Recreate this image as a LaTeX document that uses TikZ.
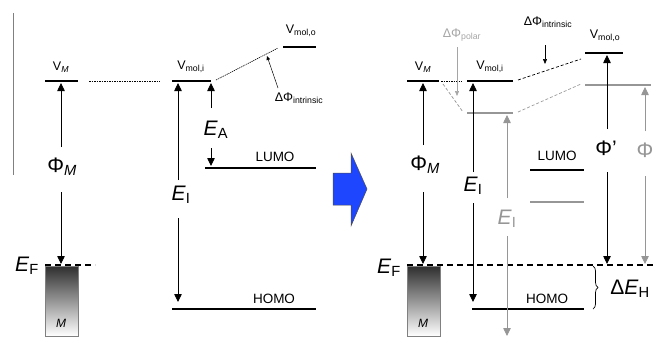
\documentclass[tikz,border=0pt]{standalone}
\usepackage{fontspec}
\setmainfont{Liberation Sans}
\usetikzlibrary{arrows.meta,decorations.pathreplacing}
\definecolor{gmid}{RGB}{150,150,150}
\definecolor{glight}{RGB}{165,165,165}
\definecolor{arrblue}{RGB}{30,70,255}
\newcommand\sbs[1]{\textsubscript{#1}}
\begin{document}
\begin{tikzpicture}[x=1pt,y=-1pt,
  bar/.style={line width=2.6pt},
  gbar/.style={line width=2.6pt,draw=gmid},
  arr/.style={-{Triangle[length=8pt,width=7.5pt]},line width=0.8pt},
  garr/.style={arr,draw=gmid,fill=gmid},
  thinarr/.style={-{Triangle[length=4pt,width=3.5pt]},line width=0.5pt},
  small/.style={font=\fontsize{12.5}{14}\selectfont},
  big/.style={font=\fontsize{21}{24}\selectfont},
  lvl/.style={font=\fontsize{13.5}{15}\selectfont},
  efline/.style={dash pattern=on 6pt off 4pt,line width=1.3pt},
  dotl/.style={dash pattern=on 1.5pt off 1pt,line width=0.8pt},
  thindash/.style={dash pattern=on 3pt off 2pt,line width=0.7pt}]
\useasboundingbox (0,0) rectangle (654,338);
% ---------------- left panel ----------------
\coordinate (vt) at (13,13); \coordinate (vb) at (13,175);
\draw[line width=1pt,gray] (vt) -- (vb);
% V_M
\coordinate (lvm1) at (45,81); \coordinate (lvm2) at (78,81);
\draw[bar] (lvm1) -- (lvm2);
\node[small] (Llvm) at (61,67) {V\sbs{\textit{M}}};
\coordinate (ld1) at (89,81); \coordinate (ld2) at (160,81);
\draw[dotl] (ld1) -- (ld2);
% V_mol,i
\coordinate (lvi1) at (172,81); \coordinate (lvi2) at (211,81);
\draw[bar] (lvi1) -- (lvi2);
\node[small] (Llvi) at (191,67) {V\sbs{mol,i}};
% V_mol,o
\coordinate (lvo1) at (283,47); \coordinate (lvo2) at (316,47);
\draw[bar] (lvo1) -- (lvo2);
\node[small] (Llvo) at (301,31) {V\sbs{mol,o}};
\coordinate (ls1) at (216,80); \coordinate (ls2) at (278,48);
\draw[dash pattern=on 1.2pt off 0.8pt,line width=0.6pt] (ls1) -- (ls2);
\node[small] (Lldi) at (299,98) {ΔΦ\sbs{intrinsic}};
\coordinate (lda1) at (278,88); \coordinate (lda2) at (267,56);
\draw[thinarr] (lda1) -- (lda2);
% Phi_M
\node[big] (LphiM) at (62,167) {Φ\sbs{\textit{M}}};
\coordinate (lpu1) at (61,147); \coordinate (lpu2) at (61,83);
\draw[arr] (lpu1) -- (lpu2);
\coordinate (lpd1) at (61,192); \coordinate (lpd2) at (61,264);
\draw[arr] (lpd1) -- (lpd2);
% E_F and metal
\node[big] (LEF) at (27,266) {\textit{E}\sbs{F}};
\coordinate (lef1) at (45,265); \coordinate (lef2) at (95,265);
\shade[top color=black!82,bottom color=white] (45,266) rectangle (78,336);
\draw[gray,line width=0.6pt] (45,266) rectangle (78,336);
\draw[efline] (lef1) -- (lef2);
\node[font=\fontsize{12}{14}\selectfont\itshape] (LM) at (61,323) {M};
% E_I
\node[big] (LEI) at (181,195) {\textit{E}\sbs{I}};
\coordinate (leu1) at (178,180); \coordinate (leu2) at (178,83);
\draw[arr] (leu1) -- (leu2);
\coordinate (led1) at (178,218); \coordinate (led2) at (178,302);
\draw[arr] (led1) -- (led2);
% HOMO
\coordinate (lh1) at (172,309); \coordinate (lh2) at (316,309);
\draw[bar] (lh1) -- (lh2);
\node[lvl] (LHOMO) at (274,299) {HOMO};
% E_A and LUMO
\node[big] (LEA) at (216,130) {\textit{E}\sbs{A}};
\coordinate (lau1) at (211,108); \coordinate (lau2) at (211,83);
\draw[arr] (lau1) -- (lau2);
\coordinate (lad1) at (211,148); \coordinate (lad2) at (211,166);
\draw[arr] (lad1) -- (lad2);
\coordinate (ll1) at (205,168); \coordinate (ll2) at (316,168);
\draw[bar] (ll1) -- (ll2);
\node[lvl] (LLUMO) at (275,157) {LUMO};
% ---------------- blue arrow ----------------
\filldraw[fill=arrblue,draw=black!70,line width=0.5pt]
  (333,173) -- (351,173) -- (351,153) -- (367,189) -- (351,226) -- (351,205) -- (333,205) -- cycle;
% ---------------- right panel ----------------
\coordinate (rvm1) at (407,81); \coordinate (rvm2) at (439,81);
\draw[bar] (rvm1) -- (rvm2);
\node[small] (Rlvm) at (423,67) {V\sbs{\textit{M}}};
\coordinate (rd1) at (441,81); \coordinate (rd2) at (462,81);
\draw[dotl] (rd1) -- (rd2);
\coordinate (rg1) at (443,84); \coordinate (rg2) at (463,112);
\draw[thindash,gmid] (rg1) -- (rg2);
\node[small,text=glight] (Rdp) at (462,35) {ΔΦ\sbs{polar}};
\coordinate (rpa1) at (457,47); \coordinate (rpa2) at (457,96);
\draw[-{Triangle[length=5pt,width=4pt]},line width=0.6pt,glight] (rpa1) -- (rpa2);
% V_mol,i
\coordinate (rvi1) at (467,81); \coordinate (rvi2) at (513,81);
\draw[bar] (rvi1) -- (rvi2);
\node[small] (Rlvi) at (490,67) {V\sbs{mol,i}};
\coordinate (rgi1) at (467,113); \coordinate (rgi2) at (513,113);
\draw[gbar] (rgi1) -- (rgi2);
\coordinate (rs1) at (518,80); \coordinate (rs2) at (581,59);
\draw[thindash] (rs1) -- (rs2);
\coordinate (rgs1) at (518,112); \coordinate (rgs2) at (581,84);
\draw[thindash,gmid] (rgs1) -- (rgs2);
\node[small] (Rdi) at (548,22) {ΔΦ\sbs{intrinsic}};
\coordinate (ria1) at (545,45); \coordinate (ria2) at (545,64);
\draw[-{Triangle[length=5pt,width=4pt]},line width=0.6pt] (ria1) -- (ria2);
% V_mol,o
\coordinate (rvo1) at (585,53); \coordinate (rvo2) at (623,53);
\draw[bar] (rvo1) -- (rvo2);
\node[small] (Rlvo) at (605,36) {V\sbs{mol,o}};
\coordinate (rgo1) at (585,85); \coordinate (rgo2) at (651,85);
\draw[gbar] (rgo1) -- (rgo2);
% Phi'
\node[big] (Rphip) at (606,148) {Φ’};
\coordinate (rpu1) at (607,129); \coordinate (rpu2) at (607,55);
\draw[arr] (rpu1) -- (rpu2);
\coordinate (rpd1) at (607,172); \coordinate (rpd2) at (607,264);
\draw[arr] (rpd1) -- (rpd2);
% gray Phi
\node[big,text=gmid] (Rphi) at (645,150) {Φ};
\coordinate (rgu1) at (645,131); \coordinate (rgu2) at (645,87);
\draw[garr] (rgu1) -- (rgu2);
\coordinate (rgd1) at (645,176); \coordinate (rgd2) at (645,264);
\draw[garr] (rgd1) -- (rgd2);
% Phi_M
\node[big] (RphiM) at (425,165) {Φ\sbs{\textit{M}}};
\coordinate (rmu1) at (423,145); \coordinate (rmu2) at (423,83);
\draw[arr] (rmu1) -- (rmu2);
\coordinate (rmd1) at (423,192); \coordinate (rmd2) at (423,264);
\draw[arr] (rmd1) -- (rmd2);
% E_F, metal
\node[big] (REF) at (389,268) {\textit{E}\sbs{F}};
\shade[top color=black!82,bottom color=white] (407,266) rectangle (440,336);
\draw[gray,line width=0.6pt] (407,266) rectangle (440,336);
\coordinate (ref1) at (407,265); \coordinate (ref2) at (654,265);
\draw[efline] (ref1) -- (ref2);
\node[font=\fontsize{12}{14}\selectfont\itshape] (RM) at (423,323) {M};
% E_I black
\node[big] (REI) at (473,186) {\textit{E}\sbs{I}};
\coordinate (reu1) at (473,172); \coordinate (reu2) at (473,83);
\draw[arr] (reu1) -- (reu2);
\coordinate (red1) at (473,203); \coordinate (red2) at (473,302);
\draw[arr] (red1) -- (red2);
% HOMO
\coordinate (rh1) at (472,309); \coordinate (rh2) at (584,309);
\draw[bar] (rh1) -- (rh2);
\node[lvl] (RHOMO) at (547,299) {HOMO};
% E_I gray
\node[big,text=gmid] (RgEI) at (507,219) {\textit{E}\sbs{I}};
\coordinate (rgeu1) at (507,198); \coordinate (rgeu2) at (507,115);
\draw[garr] (rgeu1) -- (rgeu2);
\coordinate (rged1) at (507,236); \coordinate (rged2) at (507,336);
\draw[garr] (rged1) -- (rged2);
% LUMO
\coordinate (rl1) at (530,170); \coordinate (rl2) at (584,170);
\draw[bar] (rl1) -- (rl2);
\node[lvl] (RLUMO) at (557,156) {LUMO};
\coordinate (rgl1) at (530,202); \coordinate (rgl2) at (584,202);
\draw[gbar] (rgl1) -- (rgl2);
% brace
\coordinate (br1) at (593,266); \coordinate (br2) at (593,309);
\draw[decorate,decoration={brace,amplitude=5pt},line width=0.7pt] (br1) -- (br2);
\node[big] (RdEH) at (630,289) {Δ\textit{E}\sbs{H}};
\end{tikzpicture}
\end{document}
